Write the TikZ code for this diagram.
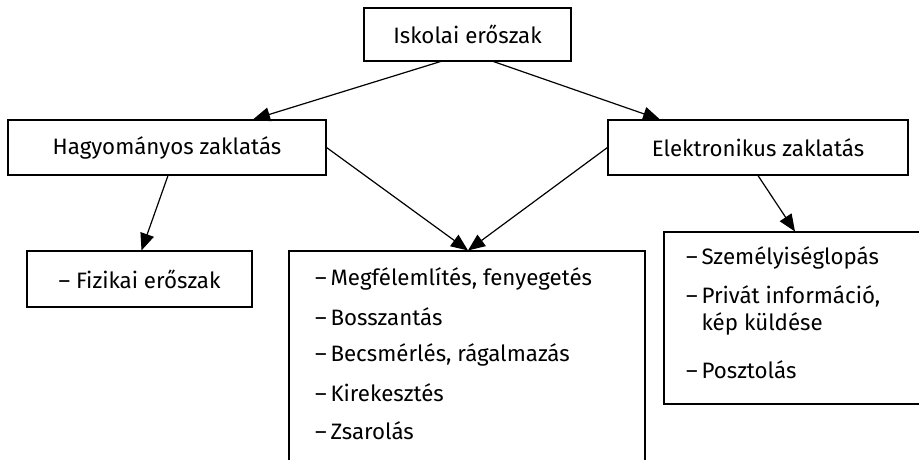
\documentclass[tikz,border=0pt]{standalone}
\usepackage{fontspec}
\setmainfont{Fira Sans}
\usetikzlibrary{arrows.meta}

\tikzset{
  box/.style={draw, line width=1.1pt, inner sep=0pt, font=\fontsize{22.3}{27}\selectfont},
  link/.style={line width=1.2pt, -{Triangle[length=17pt,width=14pt]}},
  item/.style={anchor=west, inner sep=0pt, align=left, font=\fontsize{22.3}{27}\selectfont}
}

\begin{document}
\begin{tikzpicture}[x=1pt,y=-1pt]
	\useasboundingbox (0,0) rectangle (919,459);
	\clip (0,0) rectangle (919,459);

	% levels
	\node [box, minimum width=207pt, minimum height=53pt] (top) at (467.5,34.5) {Iskolai erőszak};
	\node [box, minimum width=318pt, minimum height=55pt] (hagy) at (167,147.5) {Hagyományos zaklatás};
	\node [box, minimum width=300pt, minimum height=55pt] (elek) at (758,147.5) {Elektronikus zaklatás};

	% forms
	\node [box, minimum width=225pt, minimum height=56pt] (fiz) at (139.5,279) {– Fizikai erőszak};
	\node [box, minimum width=356pt, minimum height=229pt] (kozos) at (467,365.5) {};
	\node [box, minimum width=266pt, minimum height=172pt] (elekl) at (797,318) {};

	\foreach \t [count=\i] in {{Megfélemlítés, fenyegetés}, Bosszantás,
	    {Becsmérlés, rágalmazás}, Kirekesztés, Zsarolás}
	  \node [item] (k\i) at (315,241+38*\i) {–\,\t};

	\node [item] (e1) at (686,258) {–\,Személyiséglopás};
	\node [item] (e2) at (686,310) {–\,Privát információ,\\\phantom{–\,}kép küldése};
	\node [item] (e3) at (686,370) {–\,Posztolás};

	% arrows
	\draw [link] ([xshift=-27pt]top.south) -- ([xshift=86pt]hagy.north);
	\draw [link] ([xshift=26pt]top.south) -- ([xshift=-98pt]elek.north);
	\draw [link] (hagy.east) -- ([xshift=1pt]kozos.north);
	\draw [link] (elek.west) -- ([xshift=1pt]kozos.north);
	\draw [link] ([xshift=1pt]hagy.south) -- ([xshift=2pt]fiz.north);
	\draw [link] (elek.south) -- ([xshift=-2pt]elekl.north);
\end{tikzpicture}
\end{document}
